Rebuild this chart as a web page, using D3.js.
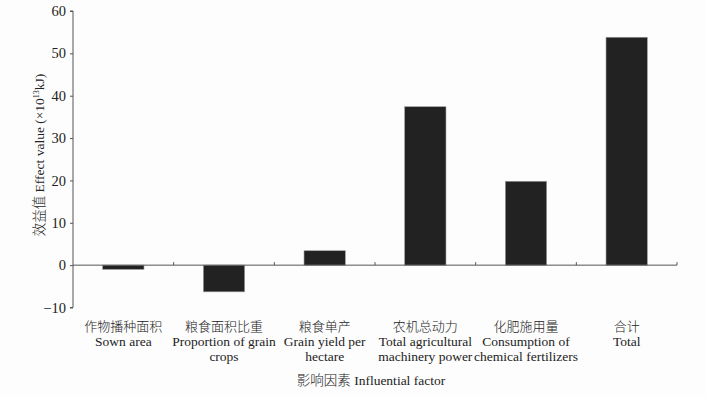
<!DOCTYPE html>
<html>
<head>
<meta charset="utf-8">
<script src="https://cdn.jsdelivr.net/npm/d3@7"></script>
<style>
  body { margin: 0; background: #fdfdfd; }
  svg { display: block; }
  text { font-family: 'Liberation Serif', 'Noto Sans CJK SC', serif; fill: #222; }
  .zh { font-weight: 300; }
</style>
</head>
<body>
<div class="chart"></div>
<script>
const categories = ['sown', 'proportion', 'yield', 'machinery', 'fertilizer', 'total'];
const labelsZh = ['作物播种面积', '粮食面积比重', '粮食单产', '农机总动力', '化肥施用量', '合计'];
const labelsEn = [
  ['Sown area'],
  ['Proportion of grain', 'crops'],
  ['Grain yield per', 'hectare'],
  ['Total agricultural', 'machinery power'],
  ['Consumption of', 'chemical fertilizers'],
  ['Total']
];
const values = [-1.0, -6.3, 3.4, 37.4, 19.8, 53.8];
const yTicks = [-10, 0, 10, 20, 30, 40, 50, 60];

const width = 706;
const height = 396;
const margin = {top: 11, right: 29, bottom: 87, left: 73};
const axisColor = '#555';

const svg = d3.select('.chart')
              .append('svg')
              .attr('width', width)
              .attr('height', height);

const x = d3.scaleBand()
            .domain(categories)
            .range([margin.left, width - margin.right])
            .paddingInner(0.59)
            .paddingOuter(0.295);

const xOuter = d3.scaleBand()
                 .domain(categories)
                 .range([margin.left, width - margin.right]);

const y = d3.scaleLinear()
            .domain([-10, 60])
            .range([height - margin.bottom - 1.5, margin.top]);

// bars
svg.selectAll('rect.bar')
   .data(values)
   .enter().append('rect')
   .attr('class', 'bar')
   .attr('x', (d, i) => x(categories[i]))
   .attr('width', x.bandwidth())
   .attr('y', d => y(Math.max(0, d)))
   .attr('height', d => Math.abs(y(d) - y(0)))
   .attr('fill', '#222')
   .attr('stroke', '#999')
   .attr('stroke-width', 0.6);

// zero line with category ticks pointing up
const zeroAxis = svg.append('g')
   .attr('transform', `translate(0,${y(0)})`);

zeroAxis.append('line')
   .attr('x1', margin.left)
   .attr('x2', width - margin.right)
   .attr('stroke', axisColor)
   .attr('stroke-width', 1);

zeroAxis.selectAll('line.tick')
   .data(categories)
   .enter().append('line')
   .attr('class', 'tick')
   .attr('x1', d => xOuter(d) + xOuter.bandwidth())
   .attr('x2', d => xOuter(d) + xOuter.bandwidth())
   .attr('y1', 0)
   .attr('y2', -3)
   .attr('stroke', axisColor);

// y axis
const yAxis = g => g
  .attr('transform', `translate(${margin.left},0)`)
  .call(d3.axisLeft(y).tickValues(yTicks).tickSize(3).tickPadding(4)
          .tickFormat(d => d < 0 ? '\u2212' + Math.abs(d) : d))
  .call(g => g.select('.domain').attr('stroke', axisColor).attr('d', `M-3,${y(60)}H0V${y(-10)}H-3`))
  .call(g => g.selectAll('.tick line').attr('stroke', axisColor))
  .call(g => g.selectAll('.tick text')
              .attr('font-family', "'Liberation Serif', serif")
              .attr('font-size', 14.5)
              .attr('fill', '#222'));

svg.append('g').call(yAxis);

// category labels
const labels = svg.append('g')
   .attr('text-anchor', 'middle')
   .attr('font-size', 13.5);

categories.forEach((c, i) => {
  const cx = xOuter(c) + xOuter.bandwidth() / 2;
  const t = labels.append('text')
     .attr('x', cx)
     .attr('y', 331);
  t.append('tspan')
   .attr('class', 'zh')
   .attr('x', cx)
   .attr('font-size', 13)
   .text(labelsZh[i]);
  labelsEn[i].forEach((line) => {
    t.append('tspan')
     .attr('x', cx)
     .attr('dy', 15)
     .text(line);
  });
});

// axis titles
const xTitle = svg.append('text')
   .attr('x', (margin.left + width - margin.right) / 2 - 4)
   .attr('y', 385)
   .attr('text-anchor', 'middle')
   .attr('font-size', 13.5);
xTitle.append('tspan').attr('class', 'zh').text('影响因素 ');
xTitle.append('tspan').text('Influential factor');

const yTitle = svg.append('text')
   .attr('transform', `translate(44,${155}) rotate(-90)`)
   .attr('text-anchor', 'middle')
   .attr('font-size', 13.5);
yTitle.append('tspan').attr('class', 'zh').text('效益值 ');
yTitle.append('tspan').text('Effect value (×10');
yTitle.append('tspan').attr('font-size', 8).attr('dy', -5).text('13');
yTitle.append('tspan').attr('dy', 5).text('kJ)');
</script>
</body>
</html>
